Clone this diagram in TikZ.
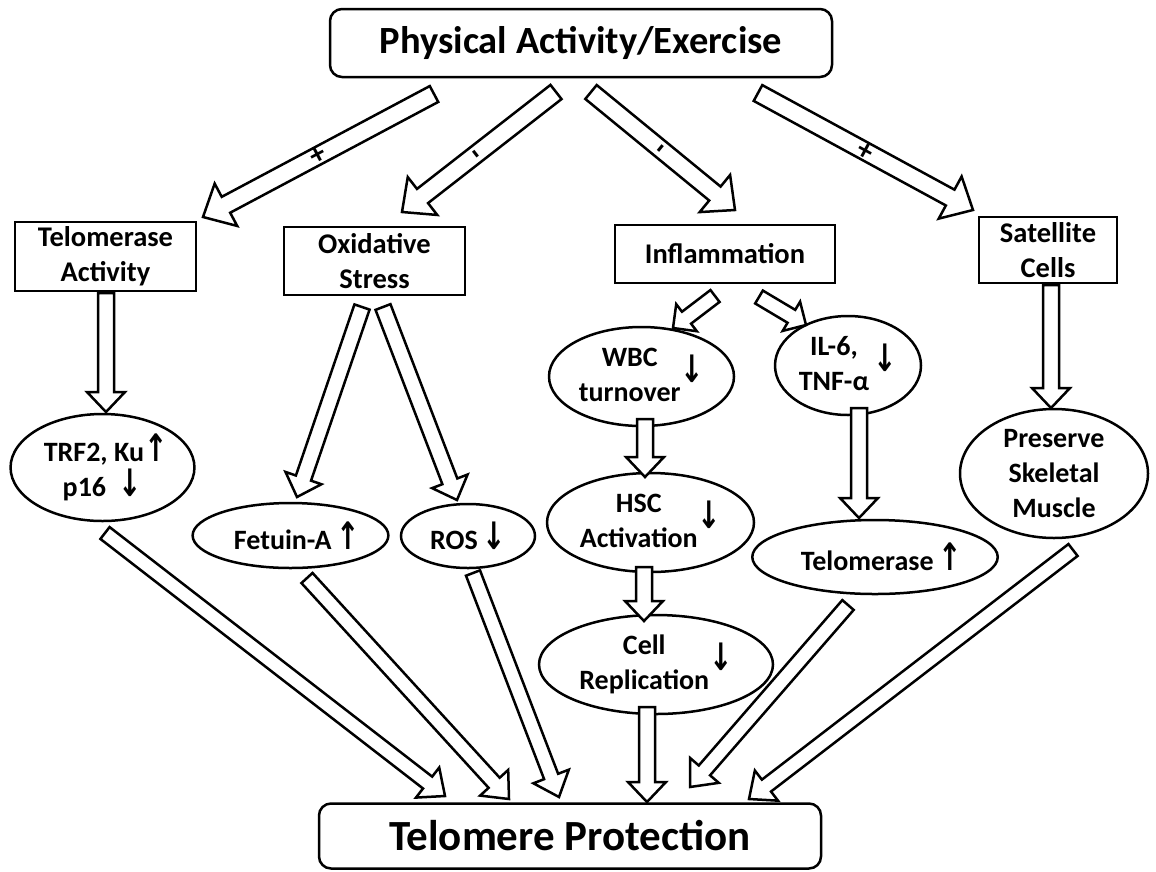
\documentclass[tikz,border=0pt]{standalone}
\usepackage{fontspec}
\setmainfont{Carlito}
\newfontfamily\arrowfont{DejaVu Sans}
\usetikzlibrary{calc,shapes.geometric}

\newcommand{\arrup}{\scalebox{1}[1.35]{\arrowfont\bfseries ↑}}
\newcommand{\arrdn}{\scalebox{1}[1.35]{\arrowfont\bfseries ↓}}

% hollow block arrow: start, tip, half shaft, half head, head length
\newcommand{\hollowarrow}[5]{%
  \coordinate (hb) at ($(#2)!#5!(#1)$);
  \draw[blockline] ($(#1)!#3!90:(#2)$) -- ($(hb)!#3!-90:(#1)$) -- ($(hb)!#4!-90:(#1)$)
    -- (#2) -- ($(hb)!#4!90:(#1)$) -- ($(hb)!#3!90:(#1)$) -- ($(#1)!#3!-90:(#2)$) -- cycle;
}

\tikzset{
  blockline/.style={line width=2.5pt, fill=white, line join=miter},
  mainbox/.style={draw, line width=2.5pt, rounded corners=12pt, minimum width=502pt,
    font=\bfseries\fontsize{38.5}{46}\selectfont},
  midbox/.style={draw, line width=2.5pt, align=center, inner sep=0pt,
    font=\bfseries\fontsize{28.5}{35}\selectfont},
  oval/.style={draw, ellipse, line width=2.5pt, align=center, inner sep=0pt,
    font=\bfseries\fontsize{28}{35}\selectfont},
  sign/.style={font=\bfseries\fontsize{30}{30}\selectfont, inner sep=0pt}
}

\begin{document}
\begin{tikzpicture}[x=1pt,y=-1pt]
\useasboundingbox (0,0) rectangle (1156,871);

% top and bottom
\node[mainbox, minimum height=68pt] (phys) at (581,43) {Physical Activity/Exercise};
\node[mainbox, minimum height=65pt, font=\bfseries\fontsize{43}{50}\selectfont] (prot) at (570,836) {Telomere Protection};

% second row
\node[midbox, minimum width=181pt, minimum height=69pt] (telact) at (105.5,256.5) {Telomerase\\Activity};
\node[midbox, minimum width=181pt, minimum height=68pt] (oxi) at (374.5,261) {Oxidative\\Stress};
\node[midbox, minimum width=220pt, minimum height=58pt] (infl) at (725,254) {Inflammation};
\node[midbox, minimum width=138pt, minimum height=66pt] (sat) at (1048,250) {Satellite\\Cells};

% ellipses
\node[oval, minimum width=177pt, minimum height=107pt] (trf) at (102.5,467.5) {\ TRF2, Ku\arrup\\p16\ \ \arrdn};
\node[oval, minimum width=187pt, minimum height=65pt] (fet) at (290.5,535.5) {\ \ Fetuin-A\,\arrup};
\node[oval, minimum width=134pt, minimum height=64pt] (ros) at (468,536) {ROS\,\arrdn};
\node[oval, minimum width=185pt, minimum height=81pt] (wbc) at (641.5,376.5) {\begin{tabular}{@{}c@{}}WBC\\turnover\end{tabular}\arrdn};
\node[oval, minimum width=146pt, minimum height=83pt] (il) at (848,365.5) {\begin{tabular}{@{}c@{}}IL-6,\\TNF-α\end{tabular}\,\arrdn};
\node[oval, minimum width=207pt, minimum height=87pt] (hsc) at (650.5,522.5) {\begin{tabular}{@{}c@{}}HSC\\Activation\end{tabular}\arrdn};
\node[oval, minimum width=234pt, minimum height=83pt] (cell) at (656,664.5) {\begin{tabular}{@{}c@{}}Cell\\Replication\end{tabular}\arrdn};
\node[oval, minimum width=238pt, minimum height=74pt] (tel) at (875,557) {\ \ Telomerase\,\arrup};
\node[oval, minimum width=188pt, minimum height=129pt] (mus) at (1054,473.5) {Preserve\\Skeletal\\Muscle};

% arrow ends
\coordinate (a1s) at (434,94);  \coordinate (a1e) at (203,217);
\coordinate (a2s) at (556,92);  \coordinate (a2e) at (402,212);
\coordinate (a3s) at (591,92);  \coordinate (a3e) at (735,210);
\coordinate (a4s) at (758,93);  \coordinate (a4e) at (973,210);
\coordinate (o1s) at (362,307); \coordinate (o1e) at (297,497);
\coordinate (o2s) at (383,307); \coordinate (o2e) at (457,500);
\coordinate (i1s) at (715,296); \coordinate (i1e) at (673,328);
\coordinate (i2s) at (759,297); \coordinate (i2e) at (806,325);
\coordinate (v1s) at (106,293); \coordinate (v1e) at (106,412);
\coordinate (v2s) at (645,419); \coordinate (v2e) at (645,477);
\coordinate (v3s) at (644,567); \coordinate (v3e) at (644,621);
\coordinate (v4s) at (859,408); \coordinate (v4e) at (859,518);
\coordinate (v5s) at (1051,285); \coordinate (v5e) at (1051,408);
\coordinate (b1s) at (105,533); \coordinate (b1e) at (445,796);
\coordinate (b2s) at (307,578); \coordinate (b2e) at (509,799);
\coordinate (b3s) at (473,573); \coordinate (b3e) at (559,797);
\coordinate (b4s) at (647,707); \coordinate (b4e) at (647,802);
\coordinate (b5s) at (848,605); \coordinate (b5e) at (690,787);
\coordinate (b6s) at (1073,550); \coordinate (b6e) at (749,799);

% from exercise
\hollowarrow{a1s}{a1e}{9pt}{24pt}{26pt}
\hollowarrow{a2s}{a2e}{9pt}{24pt}{26pt}
\hollowarrow{a3s}{a3e}{9pt}{24pt}{26pt}
\hollowarrow{a4s}{a4e}{9pt}{24pt}{26pt}
\path (a1s) -- (a1e) node[sign, pos=.5, sloped] (s1) {+};
\path (a2s) -- (a2e) node[sign, pos=.5, sloped, rotate=90] (s2) {-};
\path (a3s) -- (a3e) node[sign, pos=.5, sloped, rotate=90] (s3) {-};
\path (a4s) -- (a4e) node[sign, pos=.5, sloped] (s4) {+};

% middle
\hollowarrow{v1s}{v1e}{8pt}{19pt}{20pt}
\hollowarrow{o1s}{o1e}{8pt}{19pt}{20pt}
\hollowarrow{o2s}{o2e}{8pt}{19pt}{20pt}
\hollowarrow{i1s}{i1e}{7.5pt}{17pt}{17pt}
\hollowarrow{i2s}{i2e}{7.5pt}{17pt}{17pt}
\hollowarrow{v2s}{v2e}{8pt}{19pt}{20pt}
\hollowarrow{v3s}{v3e}{8pt}{19pt}{20pt}
\hollowarrow{v4s}{v4e}{8pt}{19pt}{20pt}
\hollowarrow{v5s}{v5e}{8pt}{19pt}{20pt}

% to telomere protection
\hollowarrow{b1s}{b1e}{7.5pt}{19pt}{22pt}
\hollowarrow{b2s}{b2e}{7.5pt}{19pt}{22pt}
\hollowarrow{b3s}{b3e}{7.5pt}{19pt}{22pt}
\hollowarrow{b4s}{b4e}{8pt}{19pt}{20pt}
\hollowarrow{b5s}{b5e}{7.5pt}{19pt}{22pt}
\hollowarrow{b6s}{b6e}{7.5pt}{19pt}{22pt}
\end{tikzpicture}
\end{document}
